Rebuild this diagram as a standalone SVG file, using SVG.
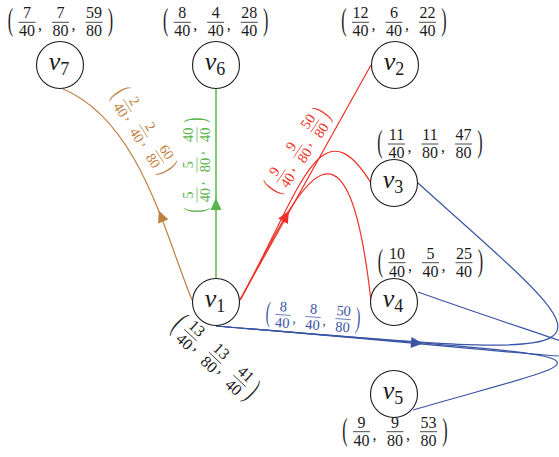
<svg xmlns="http://www.w3.org/2000/svg" xmlns:xlink="http://www.w3.org/1999/xlink" width="559" height="457" viewBox="0 0 559 457">
<style>
.e{fill:none;stroke-width:1.2}
.or{stroke:#bf8040}.gr{stroke:#5ab54a;stroke-width:1.5}.rd{stroke:#ef3129}.bl{stroke:#3a55a5}
.n circle{fill:#fff;stroke:#1a1a1a;stroke-width:1.1}
.vl{font-family:"Liberation Serif",serif;font-style:italic;font-size:26px;text-anchor:middle;fill:#1a1a1a}
.vl .s{font-style:normal;font-size:18px}
.f text{font-family:"Liberation Serif",serif;font-size:16px;text-anchor:middle;fill:currentColor}
.f line{stroke:currentColor;stroke-width:0.8}
</style>
<defs>
<path id="ah" d="M6,0 L-6,-5.5 L-6,5.5 Z"/>
</defs>
<g id="connectors">
<path class="e or" d="M192,300 C165,235 140,120 61,88"/>
<path class="e gr" d="M216,279 L216,88"/>
<path class="e rd" d="M240,300 L371,65"/>
<path class="e rd" d="M240,300 C299,194 320,100 371,183"/>
<path class="e rd" d="M240,300 C292,206 345,70 371,301"/>
<path class="e bl" d="M216,326 C646,362 618,364 418,183"/>
<path class="e bl" d="M216,326 C696,366 662,379 418,292"/>
<path class="e bl" d="M216,326 C646,362 619,350 413,410"/>
<use xlink:href="#ah" fill="#bf8040" transform="translate(161,216) rotate(-112)"/>
<use xlink:href="#ah" fill="#5ab54a" transform="translate(216,204) rotate(-90)"/>
<use xlink:href="#ah" fill="#ef3129" transform="translate(286,216) rotate(-60.6)"/>
<use xlink:href="#ah" fill="#3a55a5" transform="translate(417,343) rotate(4.8)"/>
</g>
<g id="v7" class="n"><circle cx="60" cy="65" r="23.5"/><text class="vl" x="59" y="70">v<tspan class="s" dy="5">7</tspan></text></g>
<g id="v6" class="n"><circle cx="216" cy="65" r="23.5"/><text class="vl" x="215" y="70">v<tspan class="s" dy="5">6</tspan></text></g>
<g id="v2" class="n"><circle cx="395" cy="65" r="23.5"/><text class="vl" x="394" y="70">v<tspan class="s" dy="5">2</tspan></text></g>
<g id="v3" class="n"><circle cx="394" cy="183" r="23.5"/><text class="vl" x="393" y="188">v<tspan class="s" dy="5">3</tspan></text></g>
<g id="v4" class="n"><circle cx="394" cy="302" r="23.5"/><text class="vl" x="393" y="307">v<tspan class="s" dy="5">4</tspan></text></g>
<g id="v5" class="n"><circle cx="394" cy="394" r="23.5"/><text class="vl" x="393" y="399">v<tspan class="s" dy="5">5</tspan></text></g>
<g id="v1" class="n"><circle cx="216" cy="302" r="23.5"/><text class="vl" x="215" y="307">v<tspan class="s" dy="5">1</tspan></text></g>
<g id="labels">
<g class="f" color="#1a1a1a" transform="translate(60.5,22.3)">
<text transform="translate(-50,0) scale(1,2)" y="4">(</text>
<text x="-33.5" y="-4">7</text><line x1="-42" y1="0" x2="-25" y2="0"/><text x="-33.5" y="14">40</text><text x="-20.5" y="8">,</text>
<text x="0" y="-4">7</text><line x1="-8.5" y1="0" x2="8.5" y2="0"/><text x="0" y="14">80</text><text x="13" y="8">,</text>
<text x="33.5" y="-4">59</text><line x1="25" y1="0" x2="42" y2="0"/><text x="33.5" y="14">80</text>
<text transform="translate(50,0) scale(1,2)" y="4">)</text>
</g>
<g class="f" color="#1a1a1a" transform="translate(215.7,22.3)">
<text transform="translate(-50,0) scale(1,2)" y="4">(</text>
<text x="-33.5" y="-4">8</text><line x1="-42" y1="0" x2="-25" y2="0"/><text x="-33.5" y="14">40</text><text x="-20.5" y="8">,</text>
<text x="0" y="-4">4</text><line x1="-8.5" y1="0" x2="8.5" y2="0"/><text x="0" y="14">40</text><text x="13" y="8">,</text>
<text x="33.5" y="-4">28</text><line x1="25" y1="0" x2="42" y2="0"/><text x="33.5" y="14">40</text>
<text transform="translate(50,0) scale(1,2)" y="4">)</text>
</g>
<g class="f" color="#1a1a1a" transform="translate(394,22.3)">
<text transform="translate(-50,0) scale(1,2)" y="4">(</text>
<text x="-33.5" y="-4">12</text><line x1="-42" y1="0" x2="-25" y2="0"/><text x="-33.5" y="14">40</text><text x="-20.5" y="8">,</text>
<text x="0" y="-4">6</text><line x1="-8.5" y1="0" x2="8.5" y2="0"/><text x="0" y="14">40</text><text x="13" y="8">,</text>
<text x="33.5" y="-4">22</text><line x1="25" y1="0" x2="42" y2="0"/><text x="33.5" y="14">40</text>
<text transform="translate(50,0) scale(1,2)" y="4">)</text>
</g>
<g class="f" color="#1a1a1a" transform="translate(430,144)">
<text transform="translate(-50,0) scale(1,2)" y="4">(</text>
<text x="-33.5" y="-4">11</text><line x1="-42" y1="0" x2="-25" y2="0"/><text x="-33.5" y="14">40</text><text x="-20.5" y="8">,</text>
<text x="0" y="-4">11</text><line x1="-8.5" y1="0" x2="8.5" y2="0"/><text x="0" y="14">80</text><text x="13" y="8">,</text>
<text x="33.5" y="-4">47</text><line x1="25" y1="0" x2="42" y2="0"/><text x="33.5" y="14">80</text>
<text transform="translate(50,0) scale(1,2)" y="4">)</text>
</g>
<g class="f" color="#1a1a1a" transform="translate(430.5,262.7)">
<text transform="translate(-50,0) scale(1,2)" y="4">(</text>
<text x="-33.5" y="-4">10</text><line x1="-42" y1="0" x2="-25" y2="0"/><text x="-33.5" y="14">40</text><text x="-20.5" y="8">,</text>
<text x="0" y="-4">5</text><line x1="-8.5" y1="0" x2="8.5" y2="0"/><text x="0" y="14">40</text><text x="13" y="8">,</text>
<text x="33.5" y="-4">25</text><line x1="25" y1="0" x2="42" y2="0"/><text x="33.5" y="14">40</text>
<text transform="translate(50,0) scale(1,2)" y="4">)</text>
</g>
<g class="f" color="#1a1a1a" transform="translate(395,431.7)">
<text transform="translate(-50,0) scale(1,2)" y="4">(</text>
<text x="-33.5" y="-4">9</text><line x1="-42" y1="0" x2="-25" y2="0"/><text x="-33.5" y="14">40</text><text x="-20.5" y="8">,</text>
<text x="0" y="-4">9</text><line x1="-8.5" y1="0" x2="8.5" y2="0"/><text x="0" y="14">80</text><text x="13" y="8">,</text>
<text x="33.5" y="-4">53</text><line x1="25" y1="0" x2="42" y2="0"/><text x="33.5" y="14">80</text>
<text transform="translate(50,0) scale(1,2)" y="4">)</text>
</g>
<g class="f" color="#1a1a1a" transform="translate(215,358) rotate(43)">
<text transform="translate(-50,0) scale(1,2)" y="4">(</text>
<text x="-33.5" y="-4">13</text><line x1="-42" y1="0" x2="-25" y2="0"/><text x="-33.5" y="14">40</text><text x="-20.5" y="8">,</text>
<text x="0" y="-4">13</text><line x1="-8.5" y1="0" x2="8.5" y2="0"/><text x="0" y="14">80</text><text x="13" y="8">,</text>
<text x="33.5" y="-4">41</text><line x1="25" y1="0" x2="42" y2="0"/><text x="33.5" y="14">40</text>
<text transform="translate(50,0) scale(1,2)" y="4">)</text>
</g>
<g class="f" color="#bf8040" transform="translate(143.5,131) rotate(57.6) scale(0.9)">
<text transform="translate(-50,0) scale(1,2)" y="4">(</text>
<text x="-33.5" y="-4">2</text><line x1="-42" y1="0" x2="-25" y2="0"/><text x="-33.5" y="14">40</text><text x="-20.5" y="8">,</text>
<text x="0" y="-4">2</text><line x1="-8.5" y1="0" x2="8.5" y2="0"/><text x="0" y="14">40</text><text x="13" y="8">,</text>
<text x="33.5" y="-4">60</text><line x1="25" y1="0" x2="42" y2="0"/><text x="33.5" y="14">80</text>
<text transform="translate(50,0) scale(1,2)" y="4">)</text>
</g>
<g class="f" color="#5ab54a" transform="translate(197,165) rotate(-90) scale(0.9)">
<text transform="translate(-50,0) scale(1,2)" y="4">(</text>
<text x="-33.5" y="-4">5</text><line x1="-42" y1="0" x2="-25" y2="0"/><text x="-33.5" y="14">40</text><text x="-20.5" y="8">,</text>
<text x="0" y="-4">5</text><line x1="-8.5" y1="0" x2="8.5" y2="0"/><text x="0" y="14">80</text><text x="13" y="8">,</text>
<text x="33.5" y="-4">40</text><line x1="25" y1="0" x2="42" y2="0"/><text x="33.5" y="14">40</text>
<text transform="translate(50,0) scale(1,2)" y="4">)</text>
</g>
<g class="f" color="#ef3129" transform="translate(298,151) rotate(-56) scale(0.9)">
<text transform="translate(-50,0) scale(1,2)" y="4">(</text>
<text x="-33.5" y="-4">9</text><line x1="-42" y1="0" x2="-25" y2="0"/><text x="-33.5" y="14">40</text><text x="-20.5" y="8">,</text>
<text x="0" y="-4">9</text><line x1="-8.5" y1="0" x2="8.5" y2="0"/><text x="0" y="14">80</text><text x="13" y="8">,</text>
<text x="33.5" y="-4">50</text><line x1="25" y1="0" x2="42" y2="0"/><text x="33.5" y="14">80</text>
<text transform="translate(50,0) scale(1,2)" y="4">)</text>
</g>
<g class="f" color="#3a55a5" transform="translate(313,317) rotate(4) scale(0.9)">
<text transform="translate(-50,0) scale(1,2)" y="4">(</text>
<text x="-33.5" y="-4">8</text><line x1="-42" y1="0" x2="-25" y2="0"/><text x="-33.5" y="14">40</text><text x="-20.5" y="8">,</text>
<text x="0" y="-4">8</text><line x1="-8.5" y1="0" x2="8.5" y2="0"/><text x="0" y="14">40</text><text x="13" y="8">,</text>
<text x="33.5" y="-4">50</text><line x1="25" y1="0" x2="42" y2="0"/><text x="33.5" y="14">80</text>
<text transform="translate(50,0) scale(1,2)" y="4">)</text>
</g>
</g>
</svg>
